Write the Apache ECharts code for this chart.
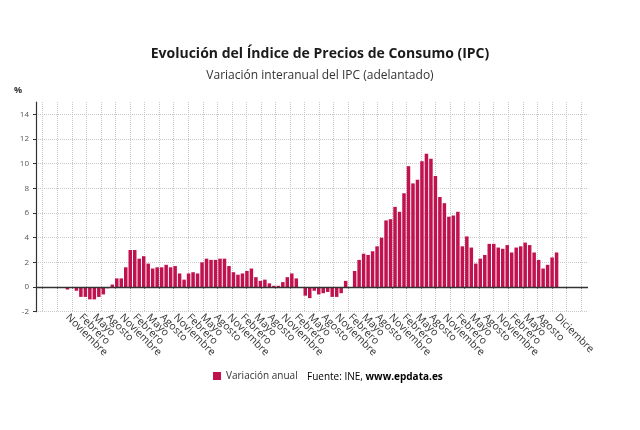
<!DOCTYPE html>
<html><head><meta charset="utf-8">
<script src="https://cdn.jsdelivr.net/npm/echarts@6/dist/echarts.min.js"></script>
<style>html,body{margin:0;padding:0;background:#fff}#c{width:640px;height:430px}</style>
</head><body><div id="c"></div>
<script>
// Month names (tick labels)
const monthNames = ['Enero','Febrero','Marzo','Abril','Mayo','Junio','Julio','Agosto','Septiembre','Octubre','Noviembre','Diciembre'];
const labelMonths = ['Noviembre','Febrero','Mayo','Agosto'];
// Axis spans April 2015 .. July 2025; data from November 2015 to December 2024
const axisStartYear = 2015, axisStartMonth = 3, axisMonths = 124;
const dataStartIndex = 7;
const lastLabelIndex = 112; // Agosto 2024
const finalIndex = 116;     // Diciembre 2024

// Variación anual del IPC (%), Nov 2015 - Dec 2024
const v2015 = [-0.2, 0.0];
const v2016 = [-0.3, -0.8, -0.8, -1.0, -1.0, -0.8, -0.6, -0.1, 0.2, 0.7, 0.7, 1.6];
const v2017 = [3.0, 3.0, 2.3, 2.5, 1.9, 1.5, 1.6, 1.6, 1.8, 1.6, 1.7, 1.1];
const v2018 = [0.6, 1.1, 1.2, 1.1, 2.0, 2.3, 2.2, 2.2, 2.3, 2.3, 1.7, 1.2];
const v2019 = [1.0, 1.1, 1.3, 1.5, 0.8, 0.5, 0.6, 0.3, 0.1, 0.1, 0.4, 0.8];
const v2020 = [1.1, 0.7, 0.0, -0.7, -0.9, -0.3, -0.6, -0.5, -0.4, -0.8, -0.8, -0.5];
const v2021 = [0.5, 0.0, 1.3, 2.2, 2.7, 2.6, 2.9, 3.3, 4.0, 5.4, 5.5, 6.5];
const v2022 = [6.1, 7.6, 9.8, 8.4, 8.7, 10.2, 10.8, 10.4, 9.0, 7.3, 6.8, 5.7];
const v2023 = [5.8, 6.1, 3.3, 4.1, 3.2, 1.9, 2.3, 2.6, 3.5, 3.5, 3.2, 3.1];
const v2024 = [3.4, 2.8, 3.2, 3.3, 3.6, 3.4, 2.8, 2.2, 1.5, 1.8, 2.4, 2.8];
const values = [].concat(v2015, v2016, v2017, v2018, v2019, v2020, v2021, v2022, v2023, v2024);

const yTicks = [-2, 0, 2, 4, 6, 8, 10, 12, 14];

const categories = [];
for (let i = 0; i < axisMonths; i++) {
  const m = (axisStartMonth + i) % 12;
  const y = axisStartYear + Math.floor((axisStartMonth + i) / 12);
  categories.push(monthNames[m] + ' ' + y);
}
const seriesData = categories.map((c, i) => {
  const k = i - dataStartIndex;
  return (k >= 0 && k < values.length) ? values[k] : '-';
});
function showLabel(idx, val) {
  if (idx === finalIndex) return true;
  if (idx < dataStartIndex || idx > lastLabelIndex) return false;
  return labelMonths.indexOf(val.split(' ')[0]) >= 0;
}

const FONT = '"Open Sans", "Noto Sans", sans-serif';
const GRID_TOP = 102, GRID_BOTTOM = 118.3;

const chart = echarts.init(document.getElementById('c'), null, {renderer: 'canvas'});
chart.setOption({
  animation: false,
  backgroundColor: '#fff',
  textStyle: {fontFamily: FONT},
  title: [{
    text: 'Evolución del Índice de Precios de Consumo (IPC)',
    left: 'center', top: 42,
    textStyle: {fontFamily: FONT, fontSize: 14, fontWeight: 'bold', color: '#1a1a1a'}
  }, {
    text: 'Variación interanual del IPC (adelantado)',
    left: 'center', top: 65,
    textStyle: {fontFamily: FONT, fontSize: 12, fontWeight: 'normal', color: '#333'}
  }],
  legend: {
    data: ['Variación anual'],
    left: 208, top: 366,
    icon: 'rect', itemWidth: 8, itemHeight: 8, itemGap: 4,
    textStyle: {fontFamily: FONT, fontSize: 10, color: '#333'}
  },
  graphic: [{
    type: 'text', left: 14, top: 86,
    style: {text: '%', font: 'bold 9px ' + FONT, fill: '#333'}
  }, {
    type: 'text', left: 307, top: 372,
    style: {
      text: '{a|Fuente: INE, }{b|www.epdata.es}',
      rich: {
        a: {fontFamily: FONT, fontSize: 10, color: '#333'},
        b: {fontFamily: FONT, fontSize: 10, fontWeight: 'bold', color: '#222'}
      }
    }
  }],
  grid: [
    {left: 36, right: 52, top: GRID_TOP, bottom: GRID_BOTTOM, containLabel: false},
    {left: 42.7, right: 58.95, top: GRID_TOP, bottom: GRID_BOTTOM, containLabel: false}
  ],
  xAxis: [{
    type: 'category', gridIndex: 0, data: categories, boundaryGap: false,
    axisLine: {show: true, lineStyle: {color: '#555', type: 'dotted', width: 1}},
    axisTick: {show: false},
    splitLine: {show: false},
    axisLabel: {
      rotate: -45, margin: 4, fontSize: 10.5, color: '#333', fontFamily: FONT,
      interval: 0, hideOverlap: false,
      formatter: (val, idx) => showLabel(idx, val) ? val.split(' ')[0] : ''
    }
  }, {
    type: 'value', gridIndex: 1, min: 0, max: 37, interval: 1,
    axisLine: {show: false}, axisLabel: {show: false},
    axisTick: {show: true, length: 2, lineStyle: {color: '#777'}},
    splitLine: {show: true, lineStyle: {color: '#c8c8c8', type: 'dotted', width: 1}}
  }],
  yAxis: [{
    type: 'value', gridIndex: 0, min: -2, max: 15, interval: 2,
    axisLine: {show: true, lineStyle: {color: '#333', width: 1.2}},
    axisTick: {show: true, length: 3, lineStyle: {color: '#333'}},
    axisLabel: {fontSize: 8, color: '#555', margin: 7, fontFamily: FONT, showMaxLabel: false,
      formatter: v => yTicks.indexOf(v) >= 0 ? String(v) : ''},
    splitLine: {show: true, showMaxLine: false, lineStyle: {color: '#c8c8c8', type: 'dotted', width: 1}}
  }, {
    type: 'value', gridIndex: 1, min: -2, max: 15, show: false
  }],
  series: [{
    name: 'Variación anual', type: 'bar', xAxisIndex: 0, yAxisIndex: 0,
    data: seriesData, barWidth: '78%',
    itemStyle: {color: '#c0124e'},
    markLine: {
      silent: true, symbol: 'none', label: {show: false},
      lineStyle: {color: '#333', type: 'solid', width: 1.3},
      data: [{yAxis: 0}]
    }
  }]
});
</script></body></html>
